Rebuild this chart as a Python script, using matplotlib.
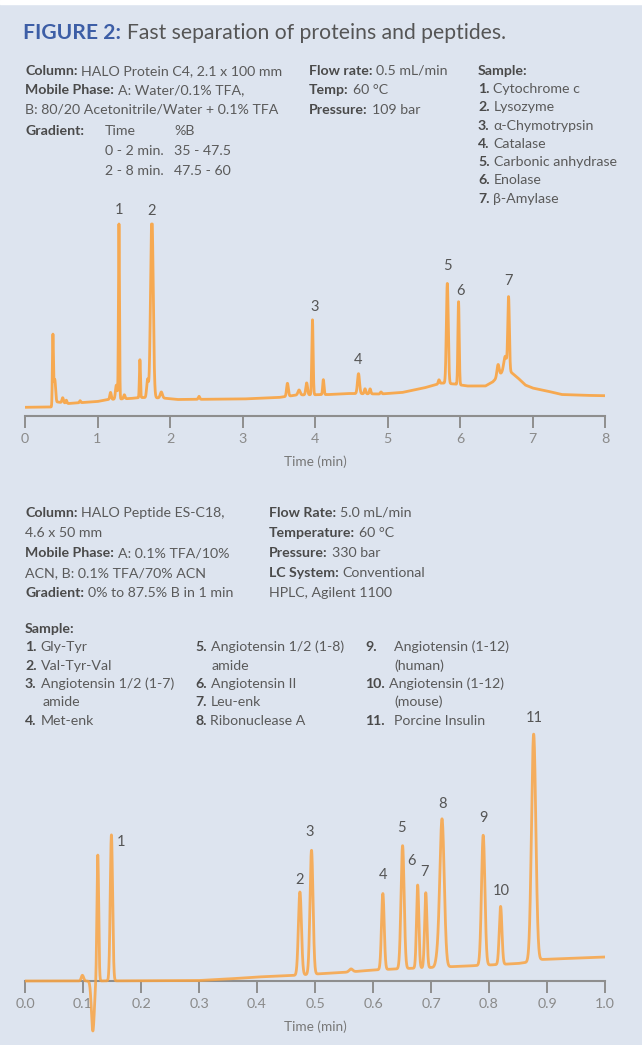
import numpy as np
import matplotlib.pyplot as plt
from matplotlib.patches import Rectangle

plt.rcParams['font.family'] = ['Lato', 'DejaVu Sans']

# ---- top chromatogram: proteins, 0-8 min ----
top_base_t = [0, 0.37, 0.45, 0.6, 1.0, 1.15, 1.45, 1.6, 1.9, 2.1, 3.0, 3.5, 3.75,
              4.2, 4.45, 4.9, 5.2, 5.5, 5.75, 5.92, 6.1, 6.35, 6.45, 6.6, 6.7,
              6.8, 6.9, 7.0, 7.2, 7.4, 7.7, 8.0]
top_base_h = [8.7, 9.0, 14, 12.5, 14.5, 16.5, 17.5, 18.5, 18, 16.5, 17, 18.5, 21,
              21.5, 22.5, 22, 23.5, 28, 33, 32, 30, 30, 34, 45, 44,
              38, 31, 28, 25, 21.5, 20.7, 20.3]
# retention time, height above baseline, width (sigma)
top_peak_t = [0.385, 0.41, 0.52, 0.57, 0.76, 1.18, 1.26, 1.296, 1.37, 1.585, 1.69,
              1.75, 1.88, 2.40, 3.62, 3.78, 3.885, 3.965, 4.115, 4.60, 4.69, 4.76,
              4.91, 5.71, 5.825, 5.98, 6.525, 6.625, 6.67]
top_peak_h = [69, 25, 5, 3, 2, 7, 14, 176, 4, 38, 18,
              185, 6, 3, 13, 5, 12, 75, 15, 20, 5, 5,
              2, 4, 100, 83, 12, 15, 74]
top_peak_w = [0.007, 0.012, 0.01, 0.008, 0.008, 0.01, 0.012, 0.007, 0.01, 0.007, 0.012,
              0.018, 0.015, 0.01, 0.012, 0.015, 0.012, 0.009, 0.009, 0.014, 0.01, 0.01,
              0.01, 0.01, 0.013, 0.009, 0.015, 0.02, 0.011]
top_saturation = 192
top_labels = ['1', '2', '3', '4', '5', '6', '7']
top_label_t = [1.296, 1.75, 3.965, 4.60, 5.825, 5.98, 6.67]

# ---- bottom chromatogram: peptides, 0-1 min ----
bot_base_t = [0, 0.1, 0.3, 0.35, 0.40, 0.46, 0.51, 0.56, 0.60, 0.65, 0.70, 0.75,
              0.80, 0.85, 0.87, 0.89, 1.0]
bot_base_h = [0, 0, 0.5, 2, 4, 5.5, 7.3, 9, 11, 12.3, 13.5, 14.7,
              16, 17.5, 19, 21.5, 24]
bot_peak_t = [0.099, 0.117, 0.1255, 0.149, 0.474, 0.494, 0.562, 0.617, 0.651,
              0.677, 0.691, 0.711, 0.719, 0.790, 0.820, 0.877]
bot_peak_h = [5.7, -50, 126, 146, 83, 124, 3, 76, 123,
              83, 75, 8, 148, 130, 58, 227]
bot_peak_w = [0.002, 0.0025, 0.0015, 0.002, 0.0026, 0.0026, 0.003, 0.0023, 0.0027,
              0.002, 0.002, 0.003, 0.0038, 0.0029, 0.0023, 0.0037]
bot_labels = ['1', '2', '3', '4', '5', '6', '7', '8', '9', '10', '11']
bot_label_t = [0.149, 0.474, 0.494, 0.617, 0.651, 0.677, 0.691, 0.719, 0.790, 0.820, 0.877]

# label offsets from peak apex, in pixels (dx, up)
top_label_off = [(0, 14), (0, 13), (2, 13), (0, 14), (0, 17), (2, 11), (0, 15.5)]
bot_label_off = [(10, -7), (0, 12), (-2, 18), (0, 19), (-1, 18), (-6, 24), (-1, 21),
                 (0, 15), (0, 17), (1, 15), (1, 16)]

BG = '#dde4ef'
BLUE = '#3d5ea6'
TXT = '#5a5a5a'
BOLD = '#4a4a4a'
ORANGE = '#f9a443'
AXIS = '#8e8e8e'

W, H = 642, 1045
fig = plt.figure(figsize=(W / 100, H / 100), dpi=100)
fig.patch.set_facecolor(BG)
fig.add_artist(Rectangle((0, 1 - 4 / H), 1, 4 / H, transform=fig.transFigure,
                         color='white', zorder=0))
bg = fig.add_axes([0, 0, 1, 1])
bg.axis('off')
bg.set_xlim(0, W)
bg.set_ylim(H, 0)

FS = 10.2


def put(x, y, bold='', rest='', rest_x=None, size=FS):
    """bold head followed by regular text, y is text centre in px"""
    if bold:
        t = bg.text(x, y, bold, fontsize=size, fontweight='bold', color=BOLD,
                    va='center', ha='left')
        if rest:
            if rest_x is None:
                bg.annotate(rest, xy=(1, 0), xycoords=t, xytext=(2.8, 0),
                            textcoords='offset points', fontsize=size, color=TXT,
                            va='bottom', ha='left')
            else:
                bg.text(rest_x, y, rest, fontsize=size, color=TXT, va='center', ha='left')
    else:
        bg.text(x, y, rest, fontsize=size, color=TXT, va='center', ha='left')


# title
t = bg.text(23, 33, 'FIGURE 2:', fontsize=15.2, fontweight='bold', color=BLUE,
            va='center', ha='left')
bg.annotate('Fast separation of proteins and peptides.', xy=(1, 0), xycoords=t,
            xytext=(4, 0), textcoords='offset points', fontsize=15.2, color='#555555',
            va='bottom', ha='left')

# top conditions
put(25, 70.7, 'Column:', 'HALO Protein C4, 2.1 x 100 mm')
put(25, 90, 'Mobile Phase:', 'A: Water/0.1% TFA,')
put(25, 110, rest='B: 80/20 Acetonitrile/Water + 0.1% TFA')
put(25, 131, 'Gradient:')
grad_rows = [('Time', '%B'), ('0 - 2 min.', '35 - 47.5'), ('2 - 8 min.', '47.5 - 60')]
for i, (a, b) in enumerate(grad_rows):
    put(105, 131 + i * 20.2, rest=a)
    put(174, 131 + i * 20.2, rest=b)
put(309, 70.7, 'Flow rate:', '0.5 mL/min')
put(309, 90, 'Temp:', '60 °C')
put(309, 110, 'Pressure:', '109 bar')
put(478, 70.7, 'Sample:')
top_samples = ['Cytochrome c', 'Lysozyme', 'α-Chymotrypsin', 'Catalase',
               'Carbonic anhydrase', 'Enolase', 'β-Amylase']
for i, s in enumerate(top_samples):
    put(478, 89 + i * 18.3, f'{i + 1}.', s)

# bottom conditions
put(25, 512.7, 'Column:', 'HALO Peptide ES-C18,')
put(25, 533, rest='4.6 x 50 mm')
put(25, 553, 'Mobile Phase:', 'A: 0.1% TFA/10%')
put(25, 573, rest='ACN, B: 0.1% TFA/70% ACN')
put(25, 593, 'Gradient:', '0% to 87.5% B in 1 min')
put(269, 512.7, 'Flow Rate:', '5.0 mL/min')
put(269, 533, 'Temperature:', '60 °C')
put(269, 553, 'Pressure:', '330 bar')
put(269, 573, 'LC System:', 'Conventional')
put(269, 593, rest='HPLC, Agilent 1100')
put(25, 629, 'Sample:')
rows = [646.7, 665.7, 684, 702, 720.7]
put(25, rows[0], '1.', 'Gly-Tyr')
put(25, rows[1], '2.', 'Val-Tyr-Val')
put(25, rows[2], '3.', 'Angiotensin 1/2 (1-7)')
put(42.6, rows[3], rest='amide')
put(25, rows[4], '4.', 'Met-enk')
put(195, rows[0], '5.', 'Angiotensin 1/2 (1-8)')
put(212, rows[1], rest='amide')
put(195, rows[2], '6.', 'Angiotensin II')
put(195, rows[3], '7.', 'Leu-enk')
put(195, rows[4], '8.', 'Ribonuclease A')
put(365.5, rows[0], '9.', 'Angiotensin (1-12)', rest_x=394)
put(394, rows[1], rest='(human)')
put(365.5, rows[2], '10.', 'Angiotensin (1-12)')
put(394, rows[3], rest='(mouse)')
put(365.5, rows[4], '11.', 'Porcine Insulin', rest_x=394)


def trace(x, base_t, base_h, pt, ph, pw):
    y = np.interp(x, base_t, base_h)
    for c, h, s in zip(pt, ph, pw):
        y = y + h * np.exp(-0.5 * ((x - c) / s) ** 2)
    return y


def style_axis(ax, ticks, labels):
    for s in ['top', 'left', 'right']:
        ax.spines[s].set_visible(False)
    ax.spines['bottom'].set_position(('data', 0))
    ax.spines['bottom'].set_color(AXIS)
    ax.spines['bottom'].set_linewidth(1.5)
    ax.set_yticks([])
    ax.set_xticks(ticks)
    ax.set_xticklabels(labels)
    ax.tick_params(axis='x', direction='out', length=8.6, width=1.4, color=AXIS,
                   labelcolor='#8a8a8a', labelsize=10.3, pad=3.5)
    ax.set_xlabel('Time (min)', fontsize=9.8, color='#777777', labelpad=8)
    ax.patch.set_alpha(0)


def label_peaks(ax, x, y, labels, label_t, offs):
    for lab, lt, (dx, dy) in zip(labels, label_t, offs):
        m = np.abs(x - lt) < (x[-1] - x[0]) * 0.004
        ax.annotate(lab, xy=(lt, y[m].max()), xytext=(dx * 0.72, dy * 0.72),
                    textcoords='offset points', ha='center', va='center',
                    fontsize=10.5, color='#555555')


# top chart: axis line at y=416 px, x 0..8 -> 25..605 px
ax1 = fig.add_axes([25 / W, (H - 416) / H, 580 / W, 230 / H])
x1 = np.linspace(0, 8, 6000)
y1 = np.minimum(trace(x1, top_base_t, top_base_h, top_peak_t, top_peak_h, top_peak_w),
                top_saturation)
ax1.plot(x1, y1, color=ORANGE, lw=2.0, alpha=0.92, zorder=3)
ax1.set_xlim(0, 8)
ax1.set_ylim(0, 230)
style_axis(ax1, range(9), [str(i) for i in range(9)])
label_peaks(ax1, x1, y1, top_labels, top_label_t, top_label_off)

# bottom chart: axis line at y=981 px
ax2 = fig.add_axes([25 / W, (H - 1041) / H, 580 / W, 330 / H])
x2 = np.linspace(0, 1, 8000)
y2 = trace(x2, bot_base_t, bot_base_h, bot_peak_t, bot_peak_h, bot_peak_w)
ax2.plot(x2, y2, color=ORANGE, lw=2.0, alpha=0.85, zorder=3)
ax2.set_xlim(0, 1)
ax2.set_ylim(-60, 270)
style_axis(ax2, np.arange(0, 1.01, 0.1), [f'{v:.1f}' for v in np.arange(0, 1.01, 0.1)])
label_peaks(ax2, x2, y2, bot_labels, bot_label_t, bot_label_off)

fig.savefig('out.png', dpi=100, facecolor=fig.get_facecolor())
